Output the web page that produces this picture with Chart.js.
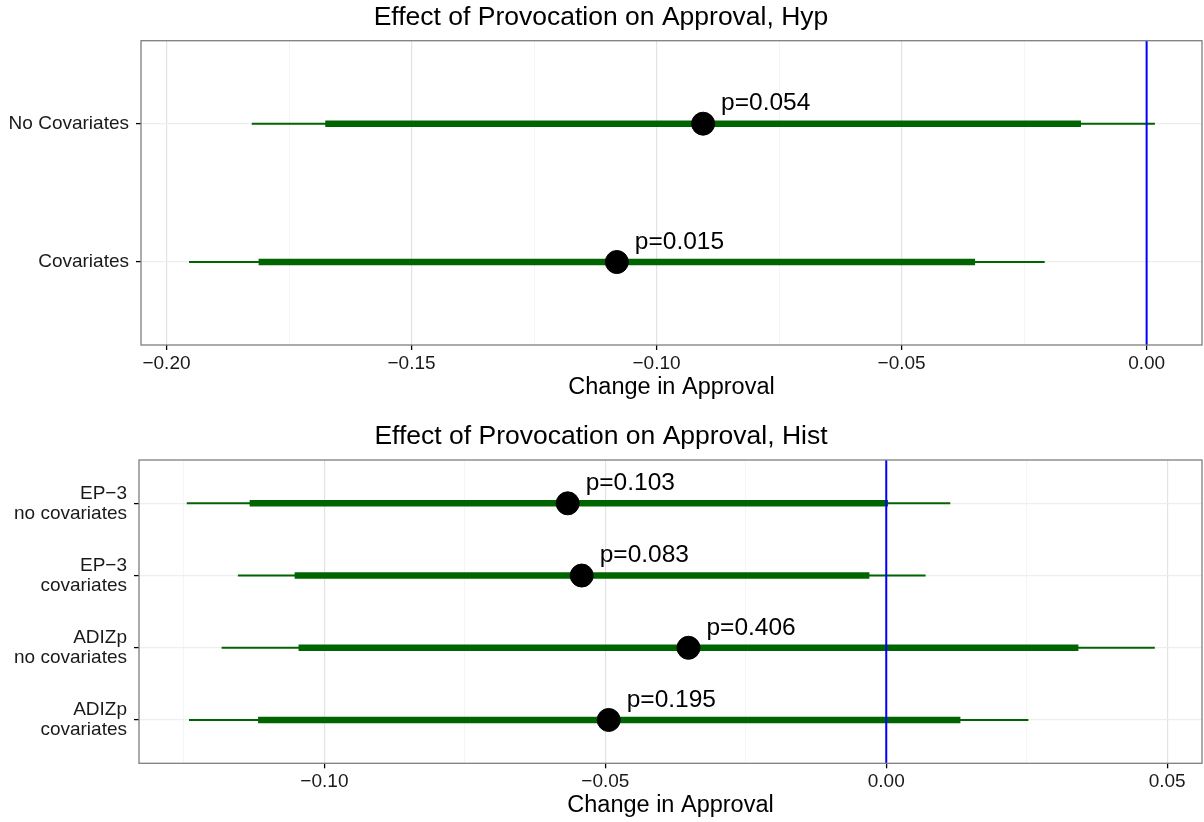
<!DOCTYPE html>
<html>
<head>
<meta charset="utf-8">
<script src="https://cdn.jsdelivr.net/npm/chart.js@4/dist/chart.umd.min.js"></script>
<style>
  html, body { margin: 0; background: #fff; overflow: hidden; }
  .panel { position: absolute; left: 0; width: 1204px; height: 411px; }
  canvas { display: block; }
</style>
</head>
<body>
<div class="panel" style="top:0"><canvas id="hypChart"></canvas></div>
<div class="panel" style="top:411px"><canvas id="histChart"></canvas></div>
<script>
// top panel: hypothetical scenario
var hypLabels = ['No Covariates', 'Covariates'];
var hypEst = [-0.0905, -0.1081];
var hypLo95 = [-0.1826, -0.1954];
var hypHi95 = [0.0017, -0.0208];
var hypLo90 = [-0.1676, -0.1812];
var hypHi90 = [-0.0134, -0.0350];
var hypP = ['p=0.054', 'p=0.015'];
var hypTicks = [-0.20, -0.15, -0.10, -0.05, 0.00];

// bottom panel: historical cases
var histLabels = [['EP\u22123', 'no covariates'], ['EP\u22123', 'covariates'], ['ADIZp', 'no covariates'], ['ADIZp', 'covariates']];
var histEst = [-0.0567, -0.0542, -0.0352, -0.0494];
var histLo95 = [-0.1245, -0.1154, -0.1183, -0.1241];
var histHi95 = [0.0114, 0.0070, 0.0478, 0.0253];
var histLo90 = [-0.1133, -0.1053, -0.1046, -0.1118];
var histHi90 = [0.0003, -0.0030, 0.0342, 0.0132];
var histP = ['p=0.103', 'p=0.083', 'p=0.406', 'p=0.195'];
var histTicks = [-0.10, -0.05, 0.00, 0.05];

var GREEN = '#006400';

function isMajor(v, ticks) {
  for (var i = 0; i < ticks.length; i++) {
    if (Math.abs(v - ticks[i]) < 1e-6) return true;
  }
  return false;
}

function fmt(v) {
  var s = Math.abs(v).toFixed(2);
  return v < -1e-9 ? '\u2212' + s : s;
}

// grey box round the plot area, drawn on top like ggplot's panel.border
var borderPlugin = {
  id: 'panelBorder',
  afterDraw: function (chart) {
    var a = chart.chartArea, c = chart.ctx;
    c.save();
    c.strokeStyle = '#7f7f7f';
    c.lineWidth = 1.3;
    c.strokeRect(a.left, a.top, a.right - a.left, a.bottom - a.top);
    c.restore();
  }
};

// p-value labels next to each point
var pLabelPlugin = {
  id: 'pLabels',
  afterDatasetsDraw: function (chart) {
    var o = chart.options.plugins.pLabels;
    var c = chart.ctx;
    c.save();
    c.font = '24.5px "Liberation Sans", Arial, sans-serif';
    c.fillStyle = '#000';
    c.textAlign = 'left';
    c.textBaseline = 'middle';
    for (var i = 0; i < o.est.length; i++) {
      var px = chart.scales.x.getPixelForValue(o.est[i]);
      var py = chart.scales.y.getPixelForValue(i + 1);
      c.fillText(o.text[i], px + 18, py - 20);
    }
    c.restore();
  }
};

function makeChart(id, p) {
  var n = p.labels.length;
  var yMin = 0.4, yMax = n + 0.6;

  // minor ticks halfway between the major ones
  var allTicks = [];
  var step = p.ticks[1] - p.ticks[0];
  for (var v = p.ticks[0] - step; v <= p.ticks[p.ticks.length - 1] + step + 1e-9; v += step / 2) {
    var r = Math.round(v * 1000) / 1000;
    if (r >= p.xMin && r <= p.xMax) allTicks.push(r);
  }

  var datasets = [];
  // vertical reference line at zero (drawn on top)
  datasets.push({
    type: 'line',
    data: [{ x: 0, y: yMin }, { x: 0, y: yMax }],
    borderColor: '#0000ff',
    borderWidth: 2,
    pointRadius: 0
  });
  datasets.push({
    type: 'scatter',
    data: p.est.map(function (e, i) { return { x: e, y: i + 1 }; }),
    backgroundColor: '#000',
    borderColor: '#000',
    pointRadius: 11.5,
    pointHoverRadius: 11.5
  });
  for (var i = 0; i < n; i++) {
    datasets.push({
      type: 'line',
      data: [{ x: p.lo90[i], y: i + 1 }, { x: p.hi90[i], y: i + 1 }],
      borderColor: GREEN,
      borderWidth: 6.5,
      borderCapStyle: 'butt',
      pointRadius: 0
    });
  }
  for (var j = 0; j < n; j++) {
    datasets.push({
      type: 'line',
      data: [{ x: p.lo95[j], y: j + 1 }, { x: p.hi95[j], y: j + 1 }],
      borderColor: GREEN,
      borderWidth: 2,
      borderCapStyle: 'butt',
      pointRadius: 0
    });
  }

  return new Chart(document.getElementById(id), {
    type: 'scatter',
    data: { datasets: datasets },
    plugins: [borderPlugin, pLabelPlugin],
    options: {
      responsive: true,
      maintainAspectRatio: false,
      animation: false,
      devicePixelRatio: 1,
      layout: { autoPadding: false, padding: { left: 0, right: 2, top: 0, bottom: 0 } },
      plugins: {
        legend: { display: false },
        tooltip: { enabled: false },
        title: {
          display: true,
          text: p.title,
          color: '#000',
          font: { family: '"Liberation Sans", Arial, sans-serif', size: 26.5, weight: 'normal', lineHeight: 1.2 },
          padding: p.titlePad
        },
        pLabels: { est: p.est, text: p.pText }
      },
      scales: {
        x: {
          type: 'linear',
          min: p.xMin,
          max: p.xMax,
          afterBuildTicks: function (scale) {
            scale.ticks = allTicks.map(function (t) { return { value: t }; });
          },
          afterFit: function (scale) {
            scale.height = p.xAxisHeight;
            scale.paddingLeft = 0;
            scale.paddingRight = 0;
          },
          border: { display: false },
          grid: {
            color: function (ctx) {
              return ctx.tick && isMajor(ctx.tick.value, p.ticks) ? '#e3e3e3' : '#f3f3f3';
            },
            lineWidth: function (ctx) {
              return ctx.tick && isMajor(ctx.tick.value, p.ticks) ? 1.2 : 0.8;
            },
            tickColor: function (ctx) {
              return ctx.tick && isMajor(ctx.tick.value, p.ticks) ? '#000' : 'rgba(0,0,0,0)';
            },
            tickLength: 5,
            tickWidth: 1.3
          },
          ticks: {
            autoSkip: false,
            maxRotation: 0,
            padding: 2,
            color: '#1a1a1a',
            font: { family: '"Liberation Sans", Arial, sans-serif', size: 19 },
            callback: function (val) { return isMajor(val, p.ticks) ? fmt(val) : ''; }
          },
          title: {
            display: true,
            text: 'Change in Approval',
            color: '#000',
            font: { family: '"Liberation Sans", Arial, sans-serif', size: 23.5, lineHeight: 1.2 },
            padding: { top: 0, bottom: p.xTitlePad }
          }
        },
        y: {
          type: 'linear',
          min: yMin,
          max: yMax,
          reverse: true,
          afterBuildTicks: function (scale) {
            var t = [];
            for (var k = 1; k <= n; k++) t.push({ value: k });
            scale.ticks = t;
          },
          afterFit: function (scale) {
            scale.width = p.yAxisWidth;
            scale.paddingTop = 0;
            scale.paddingBottom = 0;
          },
          border: { display: false },
          grid: {
            color: '#eeeeee',
            lineWidth: 1.2,
            tickColor: '#000',
            tickLength: 5,
            tickWidth: 1.3
          },
          ticks: {
            autoSkip: false,
            padding: 7,
            color: '#1a1a1a',
            font: { family: '"Liberation Sans", Arial, sans-serif', size: 19, lineHeight: 1.05 },
            callback: function (val) { return p.labels[Math.round(val) - 1]; }
          }
        }
      }
    }
  });
}

makeChart('hypChart', {
  title: 'Effect of Provocation on Approval, Hyp',
  labels: hypLabels, est: hypEst, lo95: hypLo95, hi95: hypHi95, lo90: hypLo90, hi90: hypHi90,
  pText: hypP, ticks: hypTicks,
  xMin: -0.2052, xMax: 0.0113,
  titlePad: { top: 2.1, bottom: 6.8 },
  xAxisHeight: 66, xTitlePad: 8.9, yAxisWidth: 141
});

makeChart('histChart', {
  title: 'Effect of Provocation on Approval, Hist',
  labels: histLabels, est: histEst, lo95: histLo95, hi95: histHi95, lo90: histLo90, hi90: histHi90,
  pText: histP, ticks: histTicks,
  xMin: -0.1330, xMax: 0.0562,
  titlePad: { top: 10.1, bottom: 7.1 },
  xAxisHeight: 58.7, xTitlePad: 1.9, yAxisWidth: 139
});
</script>
</body>
</html>
